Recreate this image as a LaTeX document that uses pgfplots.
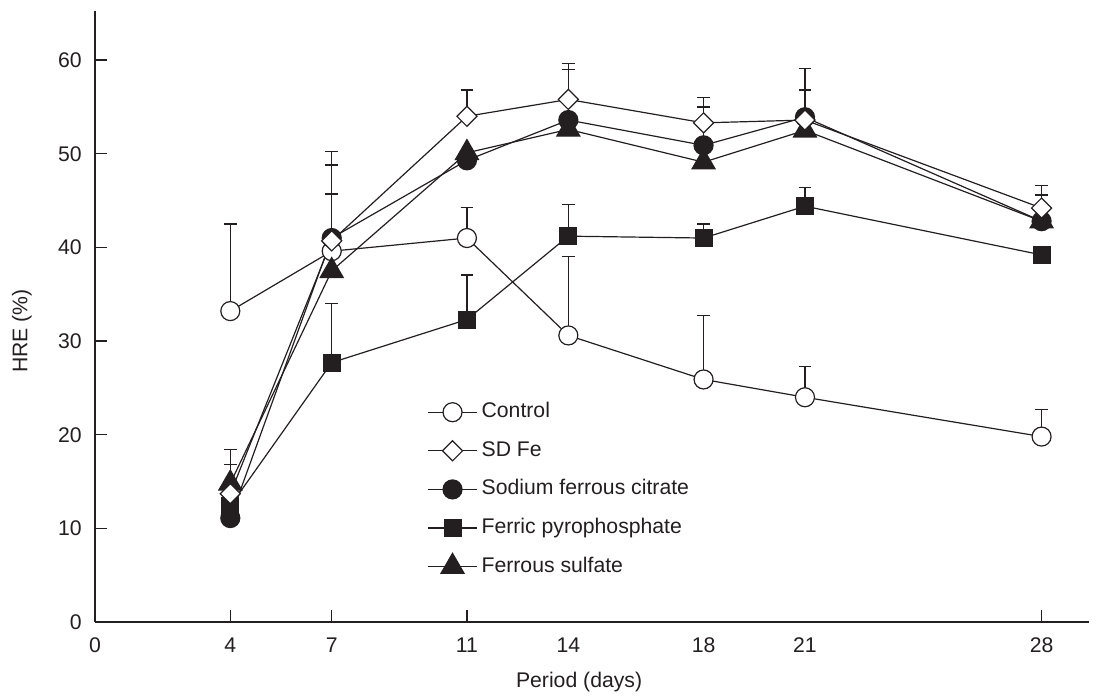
\documentclass[border=0pt]{standalone}
\usepackage{fontspec}
\setmainfont{Liberation Sans}
\usepackage{pgfplots}
\pgfplotsset{compat=1.18}
\usepackage{pgfplotstable}
\definecolor{ink}{RGB}{35,31,32}

% x = day, y = HRE (%), ey = upper error
\pgfplotstableread{
x y ey
4 33.2 9.3
7 39.6 6.1
11 41.0 3.3
14 30.6 8.4
18 25.9 6.8
21 24.0 3.3
28 19.8 2.9
}\control
\pgfplotstableread{
x y ey
4 13.7 3.1
7 40.7 9.5
11 54.0 2.8
14 55.8 3.8
18 53.3 2.7
21 53.6 5.5
28 44.2 2.4
}\sdfe
\pgfplotstableread{
x y ey
4 11.1 0
7 41.0 7.8
11 49.3 0
14 53.6 5.4
18 50.9 4.1
21 53.9 2.9
28 42.8 2.8
}\sodium
\pgfplotstableread{
x y ey
4 12.4 0
7 27.7 6.3
11 32.3 4.75
14 41.2 3.4
18 41.0 1.5
21 44.4 2.0
28 39.2 0
}\ferric
\pgfplotstableread{
x y ey
4 14.8 3.6
7 37.5 0
11 50.1 0
14 52.6 0
18 49.1 0
21 52.5 0
28 42.8 0
}\ferrous

\pgfplotsset{
  ser/.style={ink, line width=0.6pt, mark options={solid, draw=ink, line width=0.6pt},
    error bars/y dir=plus, error bars/y explicit,
    error bars/error bar style={ink, line width=0.6pt},
    error bars/error mark options={ink, line width=0.6pt, mark size=3.2pt, rotate=90}},
  sCtrl/.style={mark=*, mark size=4.75pt, mark options={fill=white}},
  sSD/.style={mark=square*, mark size=3.55pt, mark options={rotate=45, fill=white}},
  sNa/.style={mark=*, mark size=4.75pt, mark options={fill=ink}},
  sFP/.style={mark=square*, mark size=4.2pt, mark options={fill=ink}},
  sFS/.style={mark=triangle*, mark size=6.6pt, mark options={fill=ink}},
  leg/.style={ink, line width=0.6pt, mark options={solid, draw=ink, line width=0.6pt}},
}

\begin{document}
\fontsize{10.6}{12.7}\selectfont
\begin{tikzpicture}
\useasboundingbox (-47.55pt,-38pt) rectangle (502.95pt,311pt);
\begin{axis}[
  anchor=south west, at={(0pt,0pt)},
  scale only axis, width=496.9pt, height=305.3pt,
  xmin=0, xmax=29.4, ymin=0, ymax=65.2,
  axis x line*=bottom, axis y line*=left,
  axis line style={ink, line width=0.7pt},
  tick align=inside, major tick length=6pt,
  tick style={ink, line width=0.7pt},
  xtick={4,7,11,28},
  extra x ticks={0,14,18,21},
  extra x tick style={tick style={draw=none}},
  ytick={0,10,20,30,40,50,60},
  /pgf/number format/assume math mode=true,
  tick label style={font=\fontsize{10.6}{12.7}\selectfont, text=ink},
  yticklabel style={xshift=-3pt},
  xticklabel style={yshift=-4pt},
  xlabel={Period (days)},
  ylabel={HRE (\%)},
  label style={font=\fontsize{10.6}{12.7}\selectfont, text=ink},
  xlabel style={at={(axis description cs:0.487,-0.0983)}, anchor=center},
  ylabel style={at={(axis description cs:-0.0736,0.4766)}, anchor=center},
  legend style={draw=none, fill=none, at={(axis description cs:0.334,0.368)}, anchor=north west,
    inner sep=0pt, row sep=4.8pt, font=\fontsize{10.6}{12.7}\selectfont, text=ink,
    nodes={inner sep=2pt, text height=8pt, text depth=2.5pt}},
  legend cell align=left,
  legend image code/.code={\draw[mark repeat=2, mark phase=2] plot coordinates {(0pt,0pt) (12.25pt,0pt) (24.5pt,0pt)};},
]
\addplot[ser, sCtrl, forget plot] table[x=x, y=y, y error=ey] {\control};
\addplot[ser, sFP, forget plot] table[x=x, y=y, y error=ey] {\ferric};
\addplot[ser, sNa, forget plot] table[x=x, y=y, y error=ey] {\sodium};
\addplot[ser, sFS, forget plot] table[x=x, y=y, y error=ey] {\ferrous};
\addplot[ser, sSD, forget plot] table[x=x, y=y, y error=ey] {\sdfe};

\addlegendimage{leg, sCtrl}
\addlegendentry{Control}
\addlegendimage{leg, sSD}
\addlegendentry{SD Fe}
\addlegendimage{leg, sNa}
\addlegendentry{Sodium ferrous citrate}
\addlegendimage{leg, sFP}
\addlegendentry{Ferric pyrophosphate}
\addlegendimage{leg, sFS}
\addlegendentry{Ferrous sulfate}
\end{axis}
\end{tikzpicture}
\end{document}
